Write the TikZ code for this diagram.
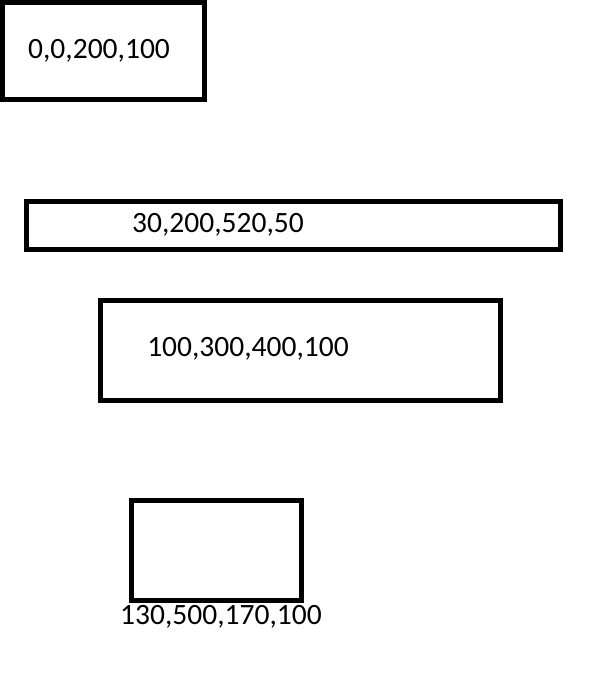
\documentclass[tikz,border=0pt]{standalone}
\usepackage{fontspec}
\setmainfont{Carlito}
\begin{document}
\begin{tikzpicture}[x=1pt,y=-1pt,line width=5pt,
    boxlabel/.style={inner sep=0pt,font=\fontsize{29.5}{34}\selectfont}]
        \useasboundingbox (0,0) rectangle (600,683);
        \draw (2,2) rectangle (204,99);
        \draw (26,201) rectangle (560,249);
        \draw (100,300) rectangle (500,400);
        \draw (131,500) rectangle (301,600);
        \node[boxlabel] (first) at (99,51) {0,0,200,100};
        \node[boxlabel] (second) at (218,225) {30,200,520,50};
        \node[boxlabel] (third) at (248,349) {100,300,400,100};
        \node[boxlabel] (fourth) at (221,617) {130,500,170,100};
    \end{tikzpicture}
\end{document}
